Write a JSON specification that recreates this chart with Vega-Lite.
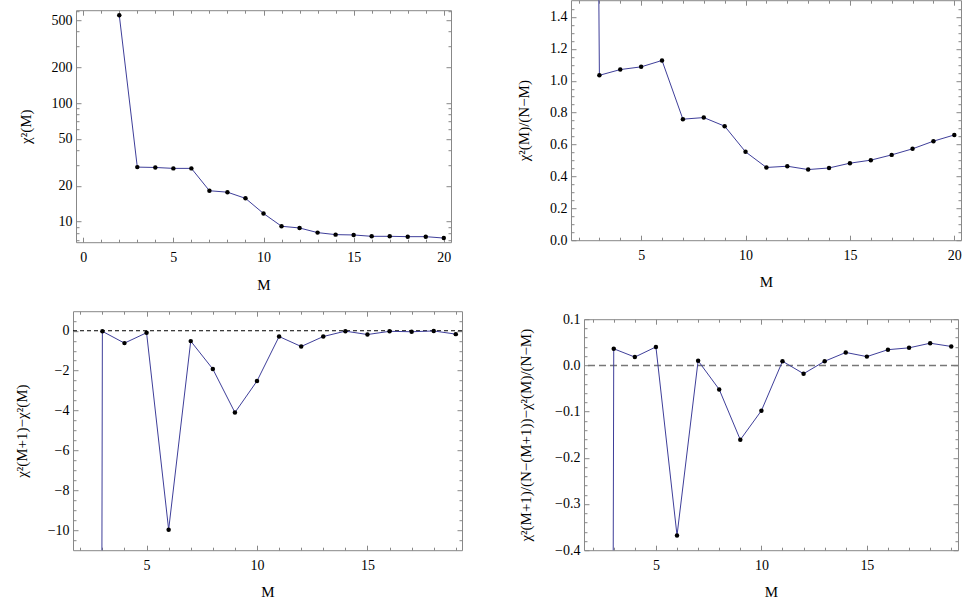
{
  "$schema": "https://vega.github.io/schema/vega-lite/v6.json",
  "background": "white",
  "autosize": "pad",
  "padding": {"left": 9, "top": -1.8, "right": 0, "bottom": 0},
  "datasets": {
    "tl": [
      {"M": 2, "value": 551}, {"M": 3, "value": 28.8}, {"M": 4, "value": 28.6}, {"M": 5, "value": 28.1},
      {"M": 6, "value": 28.1}, {"M": 7, "value": 18.2}, {"M": 8, "value": 17.7}, {"M": 9, "value": 15.7},
      {"M": 10, "value": 11.7}, {"M": 11, "value": 9.13}, {"M": 12, "value": 8.83}, {"M": 13, "value": 8.07},
      {"M": 14, "value": 7.76}, {"M": 15, "value": 7.71}, {"M": 16, "value": 7.51}, {"M": 17, "value": 7.51},
      {"M": 18, "value": 7.46}, {"M": 19, "value": 7.46}, {"M": 20, "value": 7.26}
    ],
    "tr": [
      {"M": 2, "value": 19.0}, {"M": 3, "value": 1.034}, {"M": 4, "value": 1.07}, {"M": 5, "value": 1.087},
      {"M": 6, "value": 1.127}, {"M": 7, "value": 0.759}, {"M": 8, "value": 0.769}, {"M": 9, "value": 0.715},
      {"M": 10, "value": 0.554}, {"M": 11, "value": 0.456}, {"M": 12, "value": 0.464}, {"M": 13, "value": 0.443},
      {"M": 14, "value": 0.453}, {"M": 15, "value": 0.483}, {"M": 16, "value": 0.502}, {"M": 17, "value": 0.535},
      {"M": 18, "value": 0.573}, {"M": 19, "value": 0.621}, {"M": 20, "value": 0.66}
    ],
    "bl": [
      {"M": 2, "value": -522}, {"M": 3, "value": -0.03}, {"M": 4, "value": -0.62}, {"M": 5, "value": -0.1},
      {"M": 6, "value": -9.97}, {"M": 7, "value": -0.52}, {"M": 8, "value": -1.92}, {"M": 9, "value": -4.1},
      {"M": 10, "value": -2.52}, {"M": 11, "value": -0.29}, {"M": 12, "value": -0.79}, {"M": 13, "value": -0.29},
      {"M": 14, "value": -0.02}, {"M": 15, "value": -0.19}, {"M": 16, "value": -0.03}, {"M": 17, "value": -0.05},
      {"M": 18, "value": -0.01}, {"M": 19, "value": -0.17}
    ],
    "br": [
      {"M": 2, "value": -17.97}, {"M": 3, "value": 0.036}, {"M": 4, "value": 0.018}, {"M": 5, "value": 0.04},
      {"M": 6, "value": -0.368}, {"M": 7, "value": 0.01}, {"M": 8, "value": -0.052}, {"M": 9, "value": -0.161},
      {"M": 10, "value": -0.098}, {"M": 11, "value": 0.009}, {"M": 12, "value": -0.018}, {"M": 13, "value": 0.009},
      {"M": 14, "value": 0.028}, {"M": 15, "value": 0.019}, {"M": 16, "value": 0.034}, {"M": 17, "value": 0.038},
      {"M": 18, "value": 0.048}, {"M": 19, "value": 0.041}
    ]
  },
  "columns": 3,
  "align": "none",
  "spacing": {"row": -3, "column": 0},
  "concat": [
    {"width": 1, "height": 1, "data": {"values": [{}]}, "mark": {"type": "point", "filled": true, "opacity": 0, "size": 1, "strokeWidth": 0}, "encoding": {}, "view": {"stroke": null}},
    {"width": 1, "height": 1, "data": {"values": [{}]}, "mark": {"type": "point", "filled": true, "opacity": 0, "size": 1, "strokeWidth": 0}, "encoding": {}, "view": {"stroke": null}},
    {"width": 1, "height": 1, "data": {"values": [{}]}, "mark": {"type": "point", "filled": true, "opacity": 0, "size": 1, "strokeWidth": 0}, "encoding": {}, "view": {"stroke": null}},
    {"width": 1, "height": 1, "data": {"values": [{}]}, "mark": {"type": "point", "filled": true, "opacity": 0, "size": 1, "strokeWidth": 0}, "encoding": {}, "view": {"stroke": null}},
    {
      "width": 375,
      "height": 232,
      "data": {"name": "tl"},
      "resolve": {"axis": {"x": "independent", "y": "independent"}},
      "layer": [
        {
          "mark": {"type": "line", "color": "#3d3d99", "strokeWidth": 1, "clip": true},
          "encoding": {
            "x": {"field": "M", "type": "quantitative", "scale": {"domain": [-0.4, 20.4], "nice": false, "zero": false},
              "axis": {"orient": "bottom", "values": [0, 5, 10, 15, 20], "format": "d", "title": "M", "tickSize": -5, "labelPadding": 24, "labelBaseline": "alphabetic", "titleY": 47, "titleBaseline": "alphabetic"}},
            "y": {"field": "value", "type": "quantitative", "scale": {"type": "log", "domain": [6.7, 607], "nice": false},
              "axis": {"orient": "left", "values": [10, 20, 50, 100, 200, 500], "format": "d", "title": "χ²(M)", "tickSize": -5, "labelPadding": 9, "titleX": -51, "titleY": 116, "titleBaseline": "middle", "minExtent": 65}}
          }
        },
        {
          "mark": {"type": "point", "filled": true, "color": "black", "opacity": 1, "size": 20, "clip": true},
          "encoding": {
            "x": {"field": "M", "type": "quantitative", "scale": {"domain": [-0.4, 20.4], "nice": false, "zero": false},
              "axis": {"orient": "bottom", "values": [1, 2, 3, 4, 6, 7, 8, 9, 11, 12, 13, 14, 16, 17, 18, 19], "tickSize": -3, "labels": false, "title": null}},
            "y": {"field": "value", "type": "quantitative", "scale": {"type": "log", "domain": [6.7, 607], "nice": false},
              "axis": {"orient": "left", "values": [7, 8, 9, 30, 40, 60, 70, 80, 90, 300, 400, 600], "tickSize": -3, "labels": false, "title": null}}
          }
        },
        {
          "mark": {"type": "point", "opacity": 0, "clip": true},
          "encoding": {
            "x": {"field": "M", "type": "quantitative", "scale": {"domain": [-0.4, 20.4], "nice": false, "zero": false},
              "axis": {"orient": "top", "values": [0, 5, 10, 15, 20], "tickSize": -5, "labels": false, "title": null, "minExtent": 11}},
            "y": {"field": "value", "type": "quantitative", "scale": {"type": "log", "domain": [6.7, 607], "nice": false},
              "axis": {"orient": "right", "values": [10, 20, 50, 100, 200, 500], "tickSize": -5, "labels": false, "title": null}}
          }
        },
        {
          "mark": {"type": "point", "opacity": 0, "clip": true},
          "encoding": {
            "x": {"field": "M", "type": "quantitative", "scale": {"domain": [-0.4, 20.4], "nice": false, "zero": false},
              "axis": {"orient": "top", "values": [1, 2, 3, 4, 6, 7, 8, 9, 11, 12, 13, 14, 16, 17, 18, 19], "tickSize": -3, "labels": false, "title": null}},
            "y": {"field": "value", "type": "quantitative", "scale": {"type": "log", "domain": [6.7, 607], "nice": false},
              "axis": {"orient": "right", "values": [7, 8, 9, 30, 40, 60, 70, 80, 90, 300, 400, 600], "tickSize": -3, "labels": false, "title": null}}
          }
        }
      ]
    },
    {
      "width": 390,
      "height": 240,
      "data": {"name": "tr"},
      "resolve": {"axis": {"x": "independent", "y": "independent"}},
      "layer": [
        {
          "mark": {"type": "line", "color": "#3d3d99", "strokeWidth": 1, "clip": true},
          "encoding": {
            "x": {"field": "M", "type": "quantitative", "scale": {"domain": [1.64, 20.32], "nice": false, "zero": false},
              "axis": {"orient": "bottom", "values": [5, 10, 15, 20], "format": "d", "title": "M", "tickSize": -5, "labelPadding": 24, "labelBaseline": "alphabetic", "titleY": 46.7, "titleBaseline": "alphabetic"}},
            "y": {"field": "value", "type": "quantitative", "scale": {"domain": [0, 1.505], "nice": false, "zero": false},
              "axis": {"orient": "left", "values": [0, 0.2, 0.4, 0.6, 0.8, 1, 1.2, 1.4], "format": ".1f", "title": "χ²(M)/(N−M)", "tickSize": -5, "labelPadding": 9, "titleX": -47, "titleY": 120, "titleBaseline": "middle", "minExtent": 104}}
          }
        },
        {
          "mark": {"type": "point", "filled": true, "color": "black", "opacity": 1, "size": 20, "clip": true},
          "encoding": {
            "x": {"field": "M", "type": "quantitative", "scale": {"domain": [1.64, 20.32], "nice": false, "zero": false},
              "axis": {"orient": "bottom", "values": [2, 3, 4, 6, 7, 8, 9, 11, 12, 13, 14, 16, 17, 18, 19], "tickSize": -3, "labels": false, "title": null, "minExtent": 61}},
            "y": {"field": "value", "type": "quantitative", "scale": {"domain": [0, 1.505], "nice": false, "zero": false},
              "axis": {"orient": "left", "values": [0.05, 0.1, 0.15, 0.25, 0.3, 0.35, 0.45, 0.5, 0.55, 0.65, 0.7, 0.75, 0.85, 0.9, 0.95, 1.05, 1.1, 1.15, 1.25, 1.3, 1.35, 1.45], "tickSize": -3, "labels": false, "title": null}}
          }
        },
        {
          "mark": {"type": "point", "opacity": 0, "clip": true},
          "encoding": {
            "x": {"field": "M", "type": "quantitative", "scale": {"domain": [1.64, 20.32], "nice": false, "zero": false},
              "axis": {"orient": "top", "values": [5, 10, 15, 20], "tickSize": -5, "labels": false, "title": null, "minExtent": 1}},
            "y": {"field": "value", "type": "quantitative", "scale": {"domain": [0, 1.505], "nice": false, "zero": false},
              "axis": {"orient": "right", "values": [0, 0.2, 0.4, 0.6, 0.8, 1, 1.2, 1.4], "tickSize": -5, "labels": false, "title": null}}
          }
        },
        {
          "mark": {"type": "point", "opacity": 0, "clip": true},
          "encoding": {
            "x": {"field": "M", "type": "quantitative", "scale": {"domain": [1.64, 20.32], "nice": false, "zero": false},
              "axis": {"orient": "top", "values": [2, 3, 4, 6, 7, 8, 9, 11, 12, 13, 14, 16, 17, 18, 19], "tickSize": -3, "labels": false, "title": null}},
            "y": {"field": "value", "type": "quantitative", "scale": {"domain": [0, 1.505], "nice": false, "zero": false},
              "axis": {"orient": "right", "values": [0.05, 0.1, 0.15, 0.25, 0.3, 0.35, 0.45, 0.5, 0.55, 0.65, 0.7, 0.75, 0.85, 0.9, 0.95, 1.05, 1.1, 1.15, 1.25, 1.3, 1.35, 1.45], "tickSize": -3, "labels": false, "title": null}}
          }
        }
      ]
    },
    {"width": 1, "height": 1, "data": {"values": [{}]}, "mark": {"type": "point", "filled": true, "opacity": 0, "size": 1, "strokeWidth": 0}, "encoding": {}, "view": {"stroke": null}},
    {
      "width": 389,
      "height": 239,
      "data": {"name": "bl"},
      "resolve": {"axis": {"x": "independent", "y": "independent"}},
      "layer": [
        {
          "data": {"values": [{"zero": 0}]},
          "mark": {"type": "rule", "color": "black", "strokeWidth": 1, "strokeDash": [4, 3]},
          "encoding": {
            "y": {"field": "zero", "type": "quantitative", "scale": {"domain": [-11, 0.98], "nice": false, "zero": false}, "axis": null}
          }
        },
        {
          "mark": {"type": "line", "color": "#3d3d99", "strokeWidth": 1, "clip": true},
          "encoding": {
            "x": {"field": "M", "type": "quantitative", "scale": {"domain": [1.67, 19.28], "nice": false, "zero": false},
              "axis": {"orient": "bottom", "values": [5, 10, 15], "format": "d", "title": "M", "tickSize": -5, "labelPadding": 24, "labelBaseline": "alphabetic", "titleY": 46, "titleBaseline": "alphabetic"}},
            "y": {"field": "value", "type": "quantitative", "scale": {"domain": [-11, 0.98], "nice": false, "zero": false},
              "axis": {"orient": "left", "values": [0, -2, -4, -6, -8, -10], "format": "d", "title": "χ²(M+1)−χ²(M)", "tickSize": -5, "labelPadding": 9, "titleX": -51.7, "titleY": 119.5, "titleBaseline": "middle", "minExtent": 62}}
          }
        },
        {
          "mark": {"type": "point", "filled": true, "color": "black", "opacity": 1, "size": 20, "clip": true},
          "encoding": {
            "x": {"field": "M", "type": "quantitative", "scale": {"domain": [1.67, 19.28], "nice": false, "zero": false},
              "axis": {"orient": "bottom", "values": [2, 3, 4, 6, 7, 8, 9, 11, 12, 13, 14, 16, 17, 18, 19], "tickSize": -3, "labels": false, "title": null}},
            "y": {"field": "value", "type": "quantitative", "scale": {"domain": [-11, 0.98], "nice": false, "zero": false},
              "axis": {"orient": "left", "values": [0.5, -0.5, -1, -1.5, -2.5, -3, -3.5, -4.5, -5, -5.5, -6.5, -7, -7.5, -8.5, -9, -9.5, -10.5], "tickSize": -3, "labels": false, "title": null}}
          }
        },
        {
          "mark": {"type": "point", "opacity": 0, "clip": true},
          "encoding": {
            "x": {"field": "M", "type": "quantitative", "scale": {"domain": [1.67, 19.28], "nice": false, "zero": false},
              "axis": {"orient": "top", "values": [5, 10, 15], "tickSize": -5, "labels": false, "title": null, "minExtent": 1}},
            "y": {"field": "value", "type": "quantitative", "scale": {"domain": [-11, 0.98], "nice": false, "zero": false},
              "axis": {"orient": "right", "values": [0, -2, -4, -6, -8, -10], "tickSize": -5, "labels": false, "title": null}}
          }
        },
        {
          "mark": {"type": "point", "opacity": 0, "clip": true},
          "encoding": {
            "x": {"field": "M", "type": "quantitative", "scale": {"domain": [1.67, 19.28], "nice": false, "zero": false},
              "axis": {"orient": "top", "values": [2, 3, 4, 6, 7, 8, 9, 11, 12, 13, 14, 16, 17, 18, 19], "tickSize": -3, "labels": false, "title": null}},
            "y": {"field": "value", "type": "quantitative", "scale": {"domain": [-11, 0.98], "nice": false, "zero": false},
              "axis": {"orient": "right", "values": [0.5, -0.5, -1, -1.5, -2.5, -3, -3.5, -4.5, -5, -5.5, -6.5, -7, -7.5, -8.5, -9, -9.5, -10.5], "tickSize": -3, "labels": false, "title": null}}
          }
        }
      ]
    },
    {
      "width": 374,
      "height": 231,
      "data": {"name": "br"},
      "resolve": {"axis": {"x": "independent", "y": "independent"}},
      "layer": [
        {
          "data": {"values": [{"zero": 0}]},
          "mark": {"type": "rule", "color": "#777777", "strokeWidth": 1.5, "strokeDash": [7, 4]},
          "encoding": {
            "y": {"field": "zero", "type": "quantitative", "scale": {"domain": [-0.4, 0.1], "nice": false, "zero": false}, "axis": null}
          }
        },
        {
          "mark": {"type": "line", "color": "#3d3d99", "strokeWidth": 1, "clip": true},
          "encoding": {
            "x": {"field": "M", "type": "quantitative", "scale": {"domain": [1.59, 19.32], "nice": false, "zero": false},
              "axis": {"orient": "bottom", "values": [5, 10, 15], "format": "d", "title": "M", "tickSize": -5, "labelPadding": 24, "labelBaseline": "alphabetic", "titleY": 46, "titleBaseline": "alphabetic"}},
            "y": {"field": "value", "type": "quantitative", "scale": {"domain": [-0.4, 0.1], "nice": false, "zero": false},
              "axis": {"orient": "left", "values": [0.1, 0, -0.1, -0.2, -0.3, -0.4], "format": ".1f", "title": "χ²(M+1)/(N−(M+1))−χ²(M)/(N−M)", "tickSize": -5, "labelPadding": 9, "titleX": -58, "titleY": 115.5, "titleBaseline": "middle", "minExtent": 120}}
          }
        },
        {
          "mark": {"type": "point", "filled": true, "color": "black", "opacity": 1, "size": 20, "clip": true},
          "encoding": {
            "x": {"field": "M", "type": "quantitative", "scale": {"domain": [1.59, 19.32], "nice": false, "zero": false},
              "axis": {"orient": "bottom", "values": [2, 3, 4, 6, 7, 8, 9, 11, 12, 13, 14, 16, 17, 18, 19], "tickSize": -3, "labels": false, "title": null}},
            "y": {"field": "value", "type": "quantitative", "scale": {"domain": [-0.4, 0.1], "nice": false, "zero": false},
              "axis": {"orient": "left", "values": [0.08, 0.06, 0.04, 0.02, -0.02, -0.04, -0.06, -0.08, -0.12, -0.14, -0.16, -0.18, -0.22, -0.24, -0.26, -0.28, -0.32, -0.34, -0.36, -0.38], "tickSize": -3, "labels": false, "title": null}}
          }
        },
        {
          "mark": {"type": "point", "opacity": 0, "clip": true},
          "encoding": {
            "x": {"field": "M", "type": "quantitative", "scale": {"domain": [1.59, 19.32], "nice": false, "zero": false},
              "axis": {"orient": "top", "values": [5, 10, 15], "tickSize": -5, "labels": false, "title": null, "minExtent": 19}},
            "y": {"field": "value", "type": "quantitative", "scale": {"domain": [-0.4, 0.1], "nice": false, "zero": false},
              "axis": {"orient": "right", "values": [0.1, 0, -0.1, -0.2, -0.3, -0.4], "tickSize": -5, "labels": false, "title": null}}
          }
        },
        {
          "mark": {"type": "point", "opacity": 0, "clip": true},
          "encoding": {
            "x": {"field": "M", "type": "quantitative", "scale": {"domain": [1.59, 19.32], "nice": false, "zero": false},
              "axis": {"orient": "top", "values": [2, 3, 4, 6, 7, 8, 9, 11, 12, 13, 14, 16, 17, 18, 19], "tickSize": -3, "labels": false, "title": null}},
            "y": {"field": "value", "type": "quantitative", "scale": {"domain": [-0.4, 0.1], "nice": false, "zero": false},
              "axis": {"orient": "right", "values": [0.08, 0.06, 0.04, 0.02, -0.02, -0.04, -0.06, -0.08, -0.12, -0.14, -0.16, -0.18, -0.22, -0.24, -0.26, -0.28, -0.32, -0.34, -0.36, -0.38], "tickSize": -3, "labels": false, "title": null}}
          }
        }
      ]
    }
  ],
  "config": {
    "view": {"stroke": "#888888", "strokeWidth": 1},
    "axis": {
      "domain": false,
      "grid": false,
      "offset": 0,
      "labelFont": "Liberation Serif",
      "labelFontSize": 14,
      "labelColor": "#000000",
      "titleFont": "Liberation Serif",
      "titleFontSize": 15,
      "titleFontWeight": "normal",
      "titleColor": "#000000",
      "tickColor": "#888888",
      "tickWidth": 1,
      "labelFlush": false,
      "labelOverlap": false,
      "labelBound": false
    }
  }
}
